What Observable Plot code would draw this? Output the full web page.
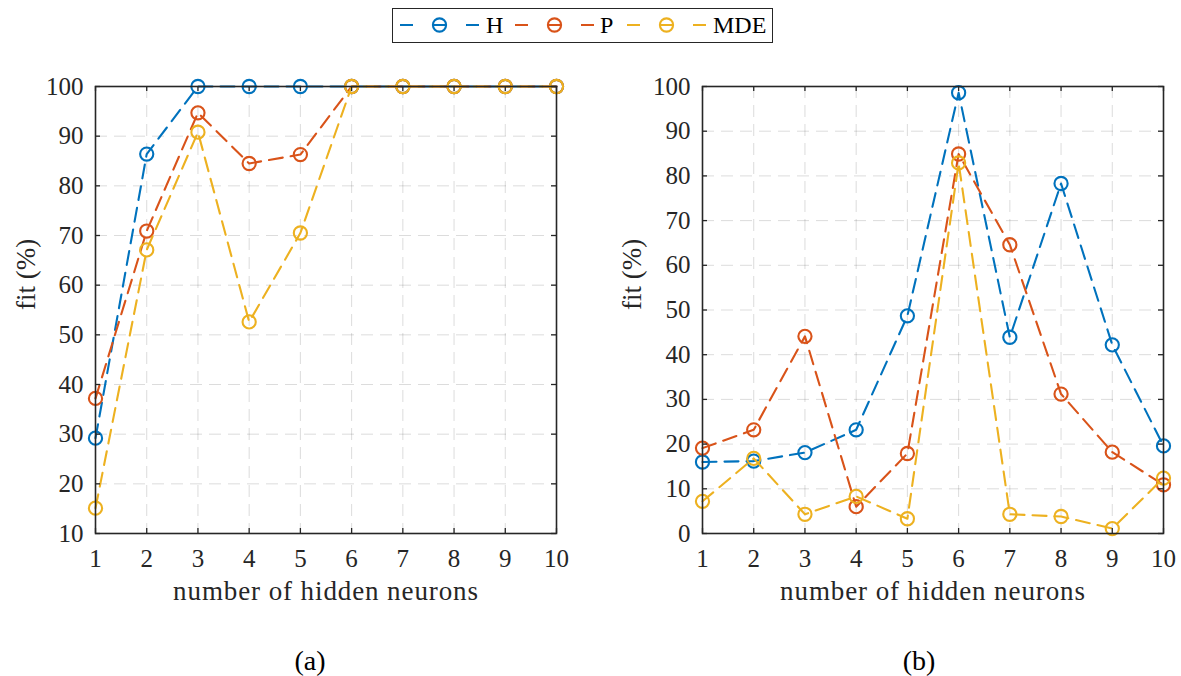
<!DOCTYPE html>
<html>
<head>
<meta charset="utf-8">
<script src="https://cdn.jsdelivr.net/npm/d3@7"></script>
<script src="https://cdn.jsdelivr.net/npm/@observablehq/plot@0.6"></script>
<style>
  html, body { margin: 0; padding: 0; background: #fff; }
  #root { position: relative; width: 1181px; height: 676px; overflow: hidden; background: #fff;
          font-family: "Liberation Serif", serif; color: #262626; }
  #legend { position: absolute; left: 392px; top: 8px; width: 381px; height: 35px; box-sizing: border-box;
            border: 1px solid #262626; background: #fff; z-index: 2; }
  #panels { position: absolute; left: 0; top: 50px; display: flex; }
  #panels svg { display: block; }
</style>
</head>
<body>
<div id="root">
  <div id="legend"></div>
  <div id="panels"></div>
</div>
<script>
// ---------- data ----------
const neurons = [1, 2, 3, 4, 5, 6, 7, 8, 9, 10];
const seriesNames = ["H", "P", "MDE"];
const seriesColors = ["#0072BD", "#D95319", "#EDB120"];

// panel (a)
const fitA_H   = [29.2, 86.4, 100, 100, 100, 100, 100, 100, 100, 100];
const fitA_P   = [37.2, 70.9, 94.7, 84.5, 86.3, 100, 100, 100, 100, 100];
const fitA_MDE = [15.1, 67.1, 90.8, 52.6, 70.5, 100, 100, 100, 100, 100];

// panel (b)
const fitB_H   = [16.0, 16.2, 18.1, 23.2, 48.7, 98.6, 43.9, 78.3, 42.2, 19.6];
const fitB_P   = [19.1, 23.2, 44.1, 6.0, 17.9, 84.9, 64.6, 31.2, 18.2, 10.9];
const fitB_MDE = [7.2, 16.8, 4.3, 8.3, 3.3, 82.9, 4.3, 3.8, 1.1, 12.4];

const xTicks = [1, 2, 3, 4, 5, 6, 7, 8, 9, 10];
const yTicksA = [10, 20, 30, 40, 50, 60, 70, 80, 90, 100];
const yTicksB = [0, 10, 20, 30, 40, 50, 60, 70, 80, 90, 100];
const xLabel = "number of hidden neurons";
const yLabel = "fit (%)";
const captions = ["(a)", "(b)"];

// ---------- panels ----------
const INK = "#262626";
function panel({series, yDomain, yTicks, caption, width, marginLeft, marginRight, yLabelDx, captionDx}) {
  const height = 626, marginTop = 36, marginBottom = 143;
  const innerW = width - marginLeft - marginRight;
  const innerH = height - marginTop - marginBottom;
  const tick = 5;
  const marks = [
    Plot.gridX(xTicks, {stroke: INK, strokeOpacity: 0.16, strokeWidth: 1, strokeDasharray: "12,7"}),
    Plot.gridY(yTicks, {stroke: INK, strokeOpacity: 0.16, strokeWidth: 1, strokeDasharray: "12,7"})
  ];
  series.forEach((vals, k) => {
    const rows = neurons.map((n, i) => ({n, fit: vals[i], series: seriesNames[k]}));
    marks.push(Plot.line(rows, {x: "n", y: "fit", stroke: "series", strokeWidth: 2.1, strokeDasharray: "14,8"}));
    marks.push(Plot.dot(rows, {x: "n", y: "fit", stroke: "series", r: 6.6, strokeWidth: 2.1, fill: "none"}));
  });
  marks.push(
    Plot.tickX(xTicks, {x: d => d, insetTop: innerH - tick, stroke: INK, strokeWidth: 1.3}),
    Plot.tickX(xTicks, {x: d => d, insetBottom: innerH - tick, stroke: INK, strokeWidth: 1.3}),
    Plot.tickY(yTicks, {y: d => d, insetRight: innerW - tick, stroke: INK, strokeWidth: 1.3}),
    Plot.tickY(yTicks, {y: d => d, insetLeft: innerW - tick, stroke: INK, strokeWidth: 1.3}),
    Plot.frame({stroke: INK, strokeWidth: 1.6}),
    Plot.axisX({ticks: xTicks, tickSize: 0, tickPadding: 16, label: null, fill: INK}),
    Plot.axisY({ticks: yTicks, tickSize: 0, tickPadding: 12, label: null, fill: INK}),
    Plot.text([xLabel], {text: d => d, frameAnchor: "bottom", dy: 66, lineAnchor: "bottom", fontSize: 27, fill: INK}),
    Plot.text([yLabel], {text: d => d, frameAnchor: "left", rotate: -90, dx: yLabelDx, lineAnchor: "middle", fontSize: 27, fill: INK}),
    Plot.text([caption], {text: d => d, frameAnchor: "bottom", dx: captionDx, dy: 136, lineAnchor: "bottom", fontSize: 28, fill: "#000"})
  );
  const svg = Plot.plot({
    width, height, marginTop, marginBottom, marginLeft, marginRight,
    x: {type: "linear", domain: [1, 10]},
    y: {type: "linear", domain: yDomain},
    color: {domain: seriesNames, range: seriesColors},
    style: {fontFamily: "'Liberation Serif', serif", fontSize: "25px", background: "white", color: INK, overflow: "visible"},
    marks
  });
  // slightly widen axis-label tracking to approximate the original typeface
  d3.select(svg).selectAll("text").filter(function () { return this.textContent === xLabel; })
    .style("letter-spacing", "0.9px");
  return svg;
}

const panels = document.getElementById("panels");
panels.appendChild(panel({
  series: [fitA_H, fitA_P, fitA_MDE], yDomain: [10, 100], yTicks: yTicksA, caption: captions[0],
  width: 590, marginLeft: 95, marginRight: 34, yLabelDx: -69, captionDx: -16
}));
panels.appendChild(panel({
  series: [fitB_H, fitB_P, fitB_MDE], yDomain: [0, 100], yTicks: yTicksB, caption: captions[1],
  width: 591, marginLeft: 112, marginRight: 18, yLabelDx: -70, captionDx: -14
}));

// ---------- legend ----------
const legendEntries = [
  {name: seriesNames[0], color: seriesColors[0], x0: 7,   tx: 93},
  {name: seriesNames[1], color: seriesColors[1], x0: 122, tx: 207},
  {name: seriesNames[2], color: seriesColors[2], x0: 234, tx: 320}
];
const lg = d3.create("svg").attr("width", 379).attr("height", 33)
  .style("display", "block").style("font-family", "'Liberation Serif', serif");
for (const e of legendEntries) {
  lg.append("line").attr("x1", e.x0).attr("x2", e.x0 + 79).attr("y1", 16).attr("y2", 16)
    .attr("stroke", e.color).attr("stroke-width", 2.1).attr("stroke-dasharray", "13,20");
  lg.append("circle").attr("cx", e.x0 + 39.5).attr("cy", 16).attr("r", 6.6)
    .attr("fill", "none").attr("stroke", e.color).attr("stroke-width", 2.1);
  lg.append("text").attr("x", e.tx).attr("y", 24).attr("font-size", 24).attr("fill", "#000").text(e.name);
}
document.getElementById("legend").appendChild(lg.node());
</script>
</body>
</html>
